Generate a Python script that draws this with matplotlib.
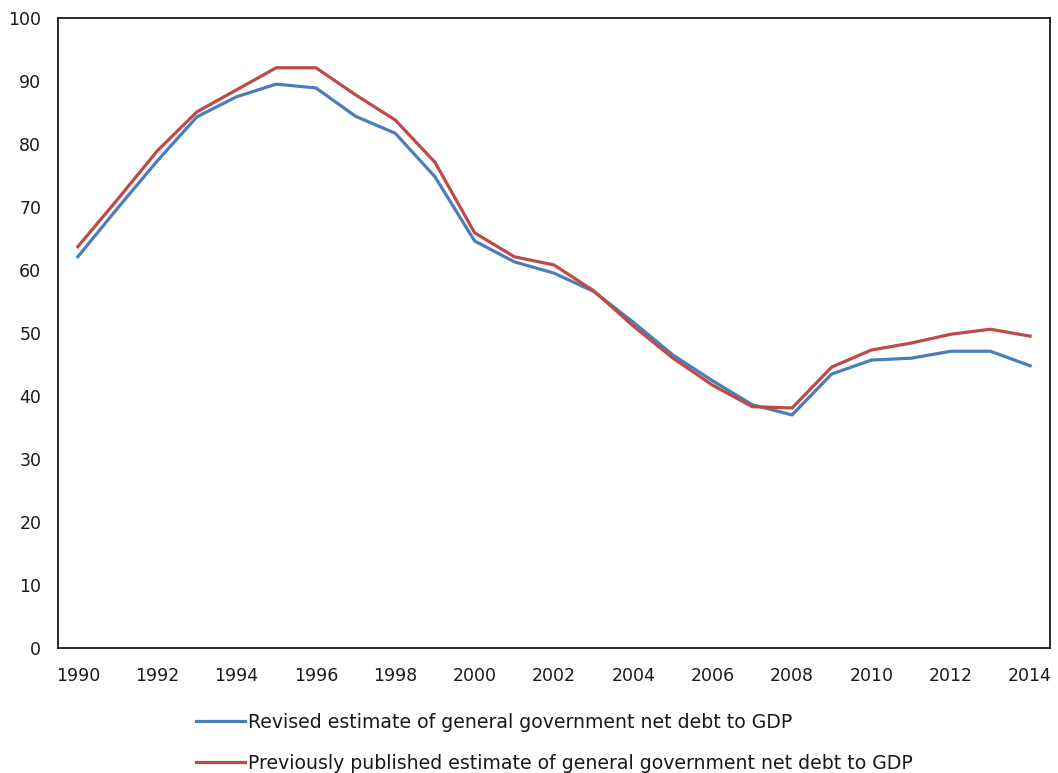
import matplotlib
matplotlib.use("Agg")
import matplotlib.pyplot as plt

years = list(range(1990, 2015))
revised = [62.1, 69.8, 77.3, 84.3, 87.5, 89.5, 88.9, 84.4, 81.7, 74.8,
           64.6, 61.3, 59.5, 56.6, 51.7, 46.5, 42.4, 38.6, 37.0, 43.5,
           45.7, 46.0, 47.1, 47.1, 44.8]
previous = [63.7, 71.2, 78.9, 85.1, 88.6, 92.1, 92.1, 87.8, 83.8, 77.1,
            65.9, 62.1, 60.8, 56.7, 51.1, 46.0, 41.7, 38.3, 38.1, 44.6,
            47.3, 48.4, 49.8, 50.6, 49.5]
xtick_labels = [str(y) for y in years if y % 2 == 0]

label_rev = "Revised estimate of general government net debt to GDP"
label_prev = "Previously published estimate of general government net debt to GDP"

plt.rcParams['font.family'] = ['DejaVu Sans']
fig = plt.figure(figsize=(10.58, 7.73), dpi=100)
ax = fig.add_axes([58/1058, 125/773, (1050-58)/1058, (648-18)/773])

idx = list(range(len(years)))
l1, = ax.plot(idx, revised, color='#4A7EBB', lw=2.3, label=label_rev)
l2, = ax.plot(idx, previous, color='#BE4B48', lw=2.3, label=label_prev)

ax.set_xlim(-0.5, len(years) - 0.5)
ax.set_ylim(0, 100)
ax.set_yticks(range(0, 101, 10))
ax.set_xticks([i for i, y in enumerate(years) if y % 2 == 0])
ax.set_xticklabels(xtick_labels)
ax.tick_params(axis='both', length=0, labelsize=12.5, colors='#1a1a1a')
ax.tick_params(axis='y', pad=12)
ax.tick_params(axis='x', pad=14)
for s in ax.spines.values():
    s.set_color('#1a1a1a')
    s.set_linewidth(1.3)

fig.legend(handles=[l1, l2], loc='upper left',
           bbox_to_anchor=(196/1058, 1 - 713/773), frameon=False,
           fontsize=13.6, handlelength=2.6, handletextpad=0.15,
           labelspacing=1.15, borderpad=0, borderaxespad=0,
           labelcolor='#1a1a1a')

fig.savefig("out.png", dpi=100)
